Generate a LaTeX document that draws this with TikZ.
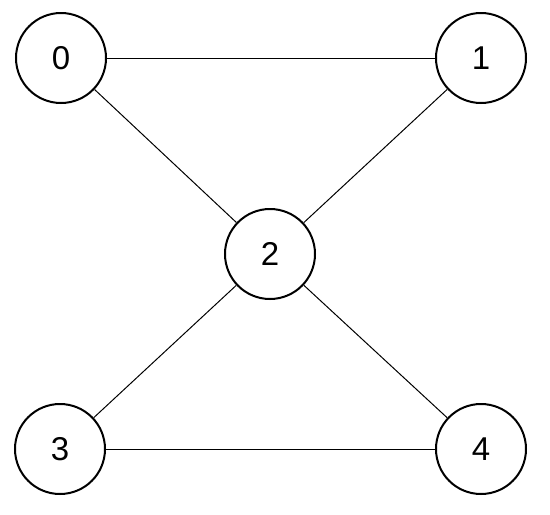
\documentclass[tikz,border=0pt]{standalone}
\usepackage{fontspec}
\setmainfont{Liberation Sans}
\begin{document}
\begin{tikzpicture}[x=1pt,y=-1pt,
  vertex/.style={circle,draw,line width=2pt,minimum size=90pt,inner sep=0pt,font=\fontsize{33}{33}\selectfont},
  edge/.style={line width=1pt}]
\useasboundingbox (0,0) rectangle (550,515);
\node[vertex] (n0) at (61,58) {0};
\node[vertex] (n1) at (481,58) {1};
\node[vertex] (n2) at (270,254) {2};
\node[vertex] (n3) at (60,449) {3};
\node[vertex] (n4) at (481,449) {4};
\draw[edge] (n0) -- (n1);
\draw[edge] (n0) -- (n2);
\draw[edge] (n1) -- (n2);
\draw[edge] (n2) -- (n3);
\draw[edge] (n2) -- (n4);
\draw[edge] (n3) -- (n4);
\end{tikzpicture}
\end{document}
